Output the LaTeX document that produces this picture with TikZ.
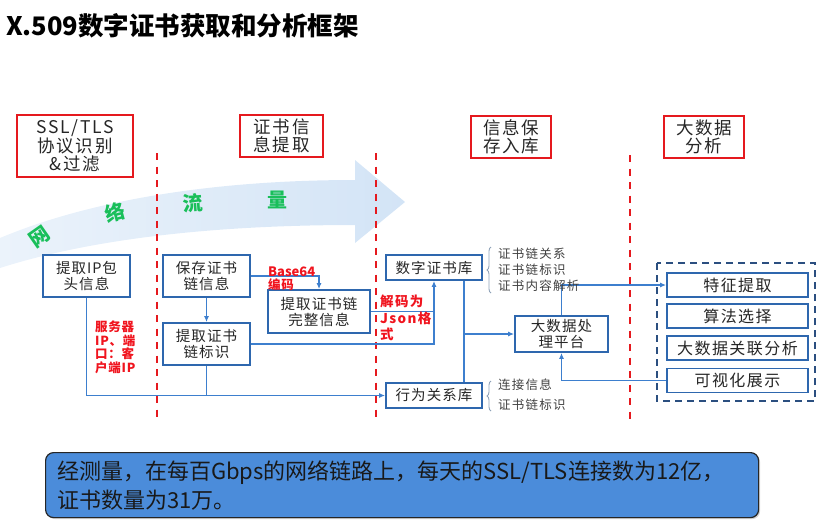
\documentclass[tikz,border=0pt]{standalone}
\usepackage{fontspec}
\setmainfont{Noto Sans CJK SC}
\usetikzlibrary{arrows.meta,decorations.pathreplacing,shadows}
\definecolor{hdrred}{HTML}{E5191E}
\definecolor{lblred}{HTML}{F0141E}
\definecolor{blkblue}{HTML}{2E67AE}
\definecolor{lineblue}{HTML}{3D7FCE}
\definecolor{flowblue}{HTML}{D3E4F6}
\definecolor{flowgreen}{HTML}{19BF5A}
\definecolor{notegray}{HTML}{8FA2B8}
\definecolor{panelblue}{HTML}{4B8CDA}
\definecolor{dashblue}{HTML}{2B4F80}
\newcommand{\spread}[1]{\addfontfeature{LetterSpace=#1}}
\begin{document}
\begin{tikzpicture}[x=1pt,y=-1pt,
  hdr/.style={draw=hdrred,line width=2.6pt,fill=white,align=center,inner sep=0pt,
    text=black!85,font=\fontsize{17.5}{18.5}\selectfont\spread{10}},
  blk/.style={draw=blkblue,line width=1.8pt,fill=white,align=center,inner sep=0pt,
    text=black!85,font=\fontsize{14.5}{16}\selectfont\spread{7}},
  fbox/.style={blk,minimum width=141pt,minimum height=24pt,font=\fontsize{16}{17}\selectfont\spread{9}},
  conn/.style={draw=lineblue,line width=1.6pt,-{Latex[length=6pt,width=5pt]}},
  wire/.style={draw=lineblue,line width=1.6pt},
  sep/.style={draw=hdrred,line width=2.6pt,dash pattern=on 7pt off 6.5pt},
  redlbl/.style={text=lblred,font=\bfseries\fontsize{12.5}{13.5}\selectfont\spread{6},align=left,inner sep=0pt},
  note/.style={text=black!75,font=\fontsize{12.5}{13}\selectfont\spread{10},anchor=west,inner sep=0pt},
  wave/.style={text=flowgreen,font=\bfseries\fontsize{20}{20}\selectfont,inner sep=0pt},
  brk/.style={draw=notegray,line width=0.9pt,decorate,decoration={brace,amplitude=4pt}}
]
\useasboundingbox (0,0) rectangle (825,531);

% title
\node[anchor=west,inner sep=0pt,font=\bfseries\fontsize{25.5}{28}\selectfont] (title) at (6,26)
  {X.509数字证书获取和分析框架};

% traffic arrow in the background
\shade[left color=flowblue!45,right color=flowblue]
  (0,238) .. controls (100,196) and (230,180) .. (355,180) -- (355,160) -- (405,202)
  -- (355,243) -- (355,225) .. controls (230,225) and (100,236) .. (0,268) -- cycle;
\node[wave,rotate=35] (w1) at (40,237) {网};
\node[wave,rotate=15] (w2) at (115,212) {络};
\node[wave,rotate=4]  (w3) at (193,203) {流};
\node[wave]           (w4) at (277,200) {量};

% stage separators
\draw[sep] (157,153) -- (157,420);
\draw[sep] (376,153) -- (376,420);
\draw[sep] (630,155) -- (630,420);

% stage headers
\node[hdr,minimum width=116pt,minimum height=62pt] (h1) at (75,146) {SSL/TLS\\协议识别\\\&过滤};
\node[hdr,minimum width=83pt,minimum height=42pt] (h2) at (281.5,136) {证书信\\息提取};
\node[hdr,minimum width=80pt,minimum height=42pt] (h3) at (511,137) {信息保\\存入库};
\node[hdr,minimum width=80pt,minimum height=42pt] (h4) at (704,137) {大数据\\分析};

% processing blocks
\node[blk,minimum width=87pt,minimum height=42pt] (ip) at (86.5,276) {提取IP包\\头信息};
\node[blk,minimum width=87pt,minimum height=42pt] (save) at (206.5,276) {保存证书\\链信息};
\node[blk,minimum width=87pt,minimum height=42pt] (mark) at (206.5,344) {提取证书\\链标识};
\node[blk,minimum width=102pt,minimum height=43pt] (full) at (319,311.5) {提取证书链\\完整信息};
\node[blk,minimum width=96pt,minimum height=25pt] (certdb) at (434,267.5) {数字证书库};
\node[blk,minimum width=96pt,minimum height=25pt] (behdb) at (434,395.5) {行为关系库};
\node[blk,minimum width=93pt,minimum height=36pt] (bdp) at (561.5,334) {大数据处\\理平台};

% analysis group
\draw[draw=dashblue,line width=2.2pt,dash pattern=on 7pt off 5pt] (657,263) rectangle (815,401);
\node[fbox] (f1) at (737.5,285) {特征提取};
\node[fbox] (f2) at (737.5,316) {算法选择};
\node[fbox] (f3) at (737.5,348) {大数据关联分析};
\node[fbox] (f4) at (737.5,380.5) {可视化展示};

% connectors
\coordinate (vx) at ([xshift=30pt]certdb.south);
\coordinate (vy) at ([xshift=30pt]behdb.north);
\draw[conn] (save.south) -- (mark.north);
\draw[conn] (save.east) -| (full.north);
\draw[conn] (full.east) -| (certdb.south);
\draw[wire] (mark.east) -| (full.east -| certdb.south);
\draw[conn] (ip.south) |- (behdb.west);
\draw[wire] (mark.south) -- (mark.south |- behdb.west);
\draw[wire] (vx) -- (vy);
\draw[conn] (vx |- bdp.west) -- (bdp.west);
\draw[conn] (bdp.north) |- (f1.west);
\draw[conn] (f4.west) -| (bdp.south);

% connector labels
\node[redlbl,anchor=west,font=\bfseries\fontsize{13}{14}\selectfont] (b64) at (268,272) {Base64};
\node[redlbl,anchor=west] (b64b) at (268,284.5) {编码};
\node[redlbl,anchor=north west,font=\bfseries\fontsize{13.5}{16.5}\selectfont\spread{10}] (json) at (380,295) {解码为\\Json格\\式};
\node[redlbl,anchor=north west] (addr) at (95,321) {服务器\\IP、端\\口：客\\户端IP};

% stored fields
\draw[brk] (491,293) -- (491,247);
\node[note] (n1) at (498,254) {证书链关系};
\node[note] (n2) at (498,270) {证书链标识};
\node[note] (n3) at (498,286) {证书内容解析};
\draw[brk] (491,411) -- (491,381);
\node[note] (n4) at (498,385) {连接信息};
\node[note] (n5) at (498,405) {证书链标识};

% measurement note
\node[draw=black!85,line width=1.2pt,fill=panelblue,rounded corners=8pt,
  minimum width=713pt,minimum height=65pt,anchor=north west,
  drop shadow={shadow xshift=1.5pt,shadow yshift=-1.5pt,opacity=0.35}] (panel) at (45,452) {};
\node[anchor=west,inner sep=0pt,text=black!90,font=\fontsize{22}{24}\selectfont] (l1) at (57,473)
  {经测量，在每百Gbps的网络链路上，每天的SSL/TLS连接数为12亿，};
\node[anchor=west,inner sep=0pt,text=black!90,font=\fontsize{22}{24}\selectfont] (l2) at (57,500)
  {证书数量为31万。};
\end{tikzpicture}
\end{document}
